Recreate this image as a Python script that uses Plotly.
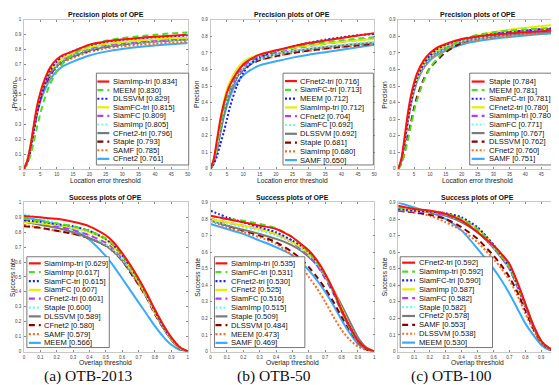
import plotly.graph_objects as go

W, H = 559, 385

# ---------------- data ----------------
prec_x = [0, 1, 2, 3, 4, 5, 6, 8, 10, 12, 15, 20, 25, 30, 35, 40, 45, 50]
succ_x = [0, 0.05, 0.1, 0.2, 0.3, 0.4, 0.5, 0.55, 0.6, 0.65, 0.7, 0.75, 0.8, 0.85, 0.9, 0.95, 1.0]

# (a) OTB-2013 precision
a_prec_names = ["SiamImp-tri", "MEEM", "DLSSVM", "SiamFC-tri", "SiamFC", "SiamImp",
                "CFnet2-tri", "Staple", "SAMF", "CFnet2"]
a_prec_scores = [0.834, 0.830, 0.829, 0.815, 0.809, 0.805, 0.796, 0.793, 0.785, 0.761]
a_prec_values = [
    [0, 0.05, 0.15, 0.29, 0.42, 0.51, 0.58, 0.68, 0.735, 0.765, 0.79, 0.834, 0.855, 0.868, 0.878, 0.887, 0.894, 0.90],
    [0, 0.03, 0.09, 0.18, 0.28, 0.37, 0.45, 0.57, 0.65, 0.71, 0.77, 0.830, 0.86, 0.878, 0.89, 0.90, 0.91, 0.915],
    [0, 0.04, 0.12, 0.25, 0.37, 0.47, 0.55, 0.66, 0.72, 0.76, 0.79, 0.829, 0.852, 0.866, 0.876, 0.884, 0.89, 0.895],
    [0, 0.05, 0.15, 0.28, 0.41, 0.50, 0.57, 0.66, 0.71, 0.745, 0.775, 0.815, 0.838, 0.852, 0.862, 0.87, 0.876, 0.88],
    [0, 0.05, 0.14, 0.27, 0.40, 0.49, 0.56, 0.65, 0.705, 0.74, 0.77, 0.809, 0.832, 0.846, 0.856, 0.864, 0.87, 0.875],
    [0, 0.05, 0.15, 0.28, 0.40, 0.49, 0.56, 0.65, 0.70, 0.735, 0.765, 0.805, 0.828, 0.842, 0.852, 0.86, 0.866, 0.87],
    [0, 0.05, 0.15, 0.28, 0.40, 0.49, 0.55, 0.64, 0.69, 0.725, 0.755, 0.796, 0.82, 0.835, 0.846, 0.855, 0.862, 0.868],
    [0, 0.04, 0.13, 0.26, 0.38, 0.47, 0.54, 0.63, 0.69, 0.725, 0.755, 0.793, 0.818, 0.834, 0.846, 0.856, 0.864, 0.87],
    [0, 0.04, 0.13, 0.26, 0.37, 0.46, 0.53, 0.62, 0.68, 0.715, 0.745, 0.785, 0.808, 0.822, 0.832, 0.84, 0.847, 0.852],
    [0, 0.05, 0.14, 0.26, 0.37, 0.45, 0.51, 0.60, 0.655, 0.69, 0.72, 0.761, 0.787, 0.805, 0.818, 0.828, 0.837, 0.845],
]

# (b) OTB-50 precision
b_prec_names = ["CFnet2-tri", "SiamFC-tri", "MEEM", "SiamImp-tri", "CFnet2", "SiamFC",
                "DLSSVM", "Staple", "SiamImp", "SAMF"]
b_prec_scores = [0.716, 0.713, 0.712, 0.712, 0.704, 0.692, 0.692, 0.681, 0.680, 0.650]
b_prec_values = [
    [0, 0.06, 0.18, 0.30, 0.39, 0.46, 0.51, 0.58, 0.63, 0.66, 0.69, 0.716, 0.74, 0.76, 0.775, 0.79, 0.805, 0.82],
    [0, 0.05, 0.15, 0.27, 0.37, 0.44, 0.50, 0.58, 0.63, 0.66, 0.688, 0.713, 0.735, 0.752, 0.765, 0.777, 0.787, 0.795],
    [0, 0.03, 0.08, 0.15, 0.22, 0.30, 0.38, 0.50, 0.58, 0.63, 0.675, 0.712, 0.74, 0.762, 0.78, 0.795, 0.807, 0.815],
    [0, 0.05, 0.16, 0.29, 0.40, 0.48, 0.53, 0.60, 0.645, 0.67, 0.69, 0.712, 0.73, 0.745, 0.757, 0.768, 0.777, 0.785],
    [0, 0.05, 0.15, 0.27, 0.37, 0.44, 0.49, 0.57, 0.62, 0.65, 0.678, 0.704, 0.725, 0.742, 0.756, 0.768, 0.778, 0.787],
    [0, 0.05, 0.14, 0.25, 0.35, 0.42, 0.48, 0.56, 0.61, 0.64, 0.667, 0.692, 0.712, 0.727, 0.74, 0.75, 0.76, 0.768],
    [0, 0.04, 0.12, 0.22, 0.32, 0.40, 0.46, 0.55, 0.60, 0.635, 0.665, 0.692, 0.71, 0.724, 0.736, 0.746, 0.755, 0.763],
    [0, 0.05, 0.14, 0.25, 0.34, 0.41, 0.47, 0.55, 0.60, 0.63, 0.658, 0.681, 0.70, 0.715, 0.727, 0.737, 0.746, 0.755],
    [0, 0.05, 0.14, 0.25, 0.35, 0.42, 0.47, 0.55, 0.60, 0.63, 0.657, 0.680, 0.70, 0.713, 0.725, 0.735, 0.744, 0.752],
    [0, 0.04, 0.12, 0.22, 0.31, 0.38, 0.44, 0.52, 0.565, 0.595, 0.625, 0.650, 0.672, 0.69, 0.705, 0.72, 0.735, 0.75],
]

# (c) OTB-100 precision
c_prec_names = ["Staple", "MEEM", "SiamFC-tri", "CFnet2-tri", "SiamImp-tri", "SiamFC",
                "SiamImp", "DLSSVM", "CFnet2", "SAMF"]
c_prec_scores = [0.784, 0.781, 0.781, 0.780, 0.780, 0.771, 0.767, 0.762, 0.760, 0.751]
c_prec_values = [
    [0, 0.06, 0.19, 0.33, 0.44, 0.52, 0.58, 0.655, 0.70, 0.73, 0.755, 0.784, 0.80, 0.81, 0.818, 0.825, 0.832, 0.838],
    [0, 0.03, 0.09, 0.17, 0.26, 0.35, 0.42, 0.53, 0.61, 0.66, 0.72, 0.781, 0.81, 0.825, 0.835, 0.842, 0.848, 0.852],
    [0, 0.05, 0.16, 0.29, 0.40, 0.49, 0.55, 0.635, 0.685, 0.72, 0.75, 0.781, 0.80, 0.815, 0.827, 0.836, 0.844, 0.85],
    [0, 0.05, 0.17, 0.30, 0.41, 0.49, 0.55, 0.635, 0.685, 0.715, 0.745, 0.780, 0.805, 0.825, 0.84, 0.852, 0.862, 0.87],
    [0, 0.05, 0.16, 0.29, 0.40, 0.49, 0.55, 0.63, 0.68, 0.715, 0.746, 0.780, 0.80, 0.815, 0.827, 0.836, 0.843, 0.848],
    [0, 0.05, 0.16, 0.28, 0.39, 0.48, 0.54, 0.62, 0.67, 0.705, 0.737, 0.771, 0.79, 0.805, 0.816, 0.825, 0.832, 0.838],
    [0, 0.05, 0.16, 0.29, 0.40, 0.48, 0.54, 0.62, 0.67, 0.70, 0.733, 0.767, 0.787, 0.80, 0.81, 0.818, 0.825, 0.83],
    [0, 0.03, 0.10, 0.19, 0.28, 0.37, 0.44, 0.54, 0.61, 0.65, 0.705, 0.762, 0.79, 0.805, 0.815, 0.822, 0.828, 0.833],
    [0, 0.05, 0.16, 0.28, 0.39, 0.47, 0.53, 0.61, 0.66, 0.69, 0.725, 0.760, 0.78, 0.793, 0.803, 0.811, 0.818, 0.824],
    [0, 0.05, 0.16, 0.28, 0.39, 0.47, 0.53, 0.61, 0.655, 0.685, 0.715, 0.751, 0.772, 0.786, 0.797, 0.806, 0.814, 0.82],
]

# (a) OTB-2013 success
a_succ_names = ["SiamImp-tri", "SiamImp", "SiamFC-tri", "SiamFC", "CFnet2-tri", "Staple",
                "DLSSVM", "CFnet2", "SAMF", "MEEM"]
a_succ_scores = [0.629, 0.617, 0.615, 0.607, 0.601, 0.600, 0.589, 0.580, 0.579, 0.566]
a_succ_values = [
    [0.91, 0.905, 0.90, 0.89, 0.87, 0.84, 0.78, 0.73, 0.66, 0.58, 0.49, 0.39, 0.28, 0.18, 0.095, 0.03, 0],
    [0.89, 0.885, 0.875, 0.86, 0.84, 0.81, 0.76, 0.71, 0.65, 0.57, 0.48, 0.38, 0.28, 0.18, 0.09, 0.03, 0],
    [0.88, 0.875, 0.87, 0.855, 0.84, 0.81, 0.755, 0.71, 0.645, 0.57, 0.48, 0.38, 0.27, 0.17, 0.09, 0.03, 0],
    [0.87, 0.865, 0.86, 0.85, 0.83, 0.80, 0.75, 0.70, 0.64, 0.56, 0.47, 0.37, 0.26, 0.17, 0.085, 0.025, 0],
    [0.88, 0.87, 0.86, 0.84, 0.815, 0.78, 0.73, 0.69, 0.63, 0.56, 0.47, 0.37, 0.27, 0.17, 0.085, 0.025, 0],
    [0.92, 0.91, 0.895, 0.86, 0.82, 0.78, 0.72, 0.68, 0.62, 0.55, 0.47, 0.37, 0.27, 0.17, 0.085, 0.025, 0],
    [0.87, 0.86, 0.85, 0.83, 0.80, 0.76, 0.71, 0.67, 0.61, 0.54, 0.46, 0.37, 0.26, 0.16, 0.08, 0.02, 0],
    [0.84, 0.835, 0.83, 0.81, 0.79, 0.76, 0.71, 0.67, 0.61, 0.53, 0.45, 0.36, 0.25, 0.16, 0.08, 0.02, 0],
    [0.85, 0.84, 0.83, 0.81, 0.79, 0.76, 0.71, 0.665, 0.61, 0.53, 0.45, 0.36, 0.26, 0.16, 0.08, 0.02, 0],
    [0.90, 0.89, 0.88, 0.85, 0.82, 0.75, 0.64, 0.57, 0.49, 0.41, 0.33, 0.25, 0.17, 0.10, 0.045, 0.012, 0],
]

# (b) OTB-50 success
b_succ_names = ["SiamImp-tri", "SiamFC-tri", "CFnet2-tri", "CFnet2", "SiamFC", "SiamImp",
                "Staple", "DLSSVM", "MEEM", "SAMF"]
b_succ_scores = [0.535, 0.531, 0.530, 0.525, 0.516, 0.515, 0.509, 0.484, 0.473, 0.469]
b_succ_values = [
    [0.82, 0.81, 0.80, 0.78, 0.76, 0.74, 0.69, 0.65, 0.61, 0.55, 0.47, 0.37, 0.25, 0.15, 0.065, 0.02, 0],
    [0.82, 0.81, 0.80, 0.79, 0.77, 0.745, 0.69, 0.65, 0.60, 0.54, 0.46, 0.36, 0.24, 0.14, 0.06, 0.02, 0],
    [0.85, 0.83, 0.81, 0.78, 0.75, 0.72, 0.67, 0.64, 0.60, 0.54, 0.46, 0.36, 0.25, 0.15, 0.065, 0.02, 0],
    [0.80, 0.79, 0.78, 0.76, 0.74, 0.71, 0.66, 0.63, 0.59, 0.54, 0.46, 0.37, 0.26, 0.155, 0.065, 0.02, 0],
    [0.80, 0.79, 0.78, 0.76, 0.74, 0.71, 0.66, 0.62, 0.58, 0.52, 0.44, 0.35, 0.24, 0.14, 0.06, 0.02, 0],
    [0.79, 0.78, 0.77, 0.75, 0.73, 0.70, 0.655, 0.62, 0.58, 0.52, 0.45, 0.35, 0.245, 0.145, 0.06, 0.02, 0],
    [0.79, 0.775, 0.76, 0.735, 0.71, 0.68, 0.64, 0.61, 0.57, 0.52, 0.45, 0.37, 0.28, 0.18, 0.085, 0.025, 0],
    [0.80, 0.78, 0.76, 0.73, 0.70, 0.66, 0.60, 0.56, 0.51, 0.45, 0.38, 0.30, 0.21, 0.13, 0.055, 0.015, 0],
    [0.79, 0.77, 0.75, 0.72, 0.69, 0.65, 0.58, 0.52, 0.45, 0.38, 0.30, 0.21, 0.13, 0.07, 0.03, 0.01, 0],
    [0.77, 0.755, 0.74, 0.71, 0.67, 0.63, 0.58, 0.54, 0.49, 0.43, 0.36, 0.28, 0.19, 0.11, 0.045, 0.012, 0],
]

# (c) OTB-100 success
c_succ_names = ["CFnet2-tri", "SiamImp-tri", "SiamFC-tri", "SiamImp", "SiamFC", "Staple",
                "CFnet2", "SAMF", "DLSSVM", "MEEM"]
c_succ_scores = [0.592, 0.592, 0.590, 0.587, 0.582, 0.582, 0.578, 0.553, 0.538, 0.530]
c_succ_values = [
    [0.88, 0.87, 0.86, 0.85, 0.83, 0.79, 0.72, 0.68, 0.64, 0.59, 0.53, 0.42, 0.29, 0.16, 0.065, 0.02, 0],
    [0.87, 0.865, 0.86, 0.85, 0.835, 0.80, 0.74, 0.69, 0.64, 0.58, 0.51, 0.41, 0.29, 0.16, 0.065, 0.02, 0],
    [0.86, 0.855, 0.85, 0.845, 0.835, 0.81, 0.75, 0.70, 0.645, 0.58, 0.51, 0.40, 0.28, 0.155, 0.06, 0.02, 0],
    [0.86, 0.855, 0.85, 0.845, 0.83, 0.80, 0.74, 0.70, 0.64, 0.58, 0.51, 0.40, 0.28, 0.155, 0.06, 0.02, 0],
    [0.85, 0.85, 0.845, 0.84, 0.825, 0.795, 0.735, 0.69, 0.635, 0.57, 0.50, 0.39, 0.27, 0.15, 0.06, 0.02, 0],
    [0.87, 0.865, 0.86, 0.845, 0.825, 0.79, 0.73, 0.68, 0.63, 0.57, 0.50, 0.40, 0.28, 0.16, 0.065, 0.02, 0],
    [0.86, 0.855, 0.85, 0.84, 0.82, 0.78, 0.72, 0.675, 0.625, 0.565, 0.50, 0.40, 0.28, 0.155, 0.06, 0.02, 0],
    [0.85, 0.845, 0.84, 0.825, 0.80, 0.75, 0.68, 0.63, 0.58, 0.52, 0.45, 0.36, 0.25, 0.14, 0.055, 0.015, 0],
    [0.86, 0.85, 0.84, 0.82, 0.78, 0.73, 0.66, 0.61, 0.56, 0.50, 0.43, 0.34, 0.23, 0.13, 0.05, 0.015, 0],
    [0.90, 0.885, 0.87, 0.84, 0.80, 0.73, 0.62, 0.56, 0.50, 0.43, 0.35, 0.26, 0.17, 0.10, 0.04, 0.01, 0],
]

captions = ["(a) OTB-2013", "(b) OTB-50", "(c) OTB-100"]

# ---------------- styles ----------------
COLORS = ["#ff1010", "#4ddc28", "#1c1cff", "#e4ee00", "#b03cff",
          "#66ffee", "#7a7a7a", "#880000", "#ff6a22", "#38aaff"]
DASHES = ["solid", "6px,4px", "2px,2px", "solid", "6px,4px",
          "2px,2px", "solid", "6px,4px", "2px,2px", "solid"]
FONT = "Arial"

# panel geometry in pixels: (left, right, top, bottom)
panels = [
    dict(kind="prec", names=a_prec_names, scores=a_prec_scores, vals=a_prec_values,
         box=(15, 180, 10, 161), yr=[0, 1], leg=(88, 181, 64, 157), leg_line=(89, 101), leg_text=103, leg_y0=72.5, dy=8.7, ytitle_x=5),
    dict(kind="prec", names=b_prec_names, scores=b_prec_scores, vals=b_prec_values,
         box=(203, 368, 10, 161), yr=[0, 0.9], leg=(276, 367, 64, 157), leg_line=(278, 290), leg_text=291.5, leg_y0=72.0, dy=8.9, ytitle_x=189),
    dict(kind="prec", names=c_prec_names, scores=c_prec_scores, vals=c_prec_values,
         box=(392, 552, 10, 161), yr=[0, 0.9], leg=(464, 555, 64, 157), leg_line=(466, 479), leg_text=481.5, leg_y0=72.5, dy=8.7, ytitle_x=378),
    dict(kind="succ", names=a_succ_names, scores=a_succ_scores, vals=a_succ_values,
         box=(15, 180, 195, 346), yr=[0, 1], leg=(18, 101, 250, 342), leg_line=(20, 32), leg_text=33, leg_y0=256.7, dy=8.95, ytitle_x=4),
    dict(kind="succ", names=b_succ_names, scores=b_succ_scores, vals=b_succ_values,
         box=(203, 368, 195, 346), yr=[0, 0.9], leg=(207, 298, 250, 342), leg_line=(208, 220), leg_text=221.5, leg_y0=256.7, dy=8.95, ytitle_x=190),
    dict(kind="succ", names=c_succ_names, scores=c_succ_scores, vals=c_succ_values,
         box=(392, 552, 195, 346), yr=[0, 0.9], leg=(394, 487, 250, 342), leg_line=(396, 409), leg_text=410.5, leg_y0=256.0, dy=9.0, ytitle_x=379),
]

def px_x(p):
    return p / W

def px_y(p):
    return 1 - p / H

fig = go.Figure()
layout = dict(
    width=W, height=H, margin=dict(l=0, r=0, t=0, b=0),
    paper_bgcolor="white", plot_bgcolor="white", showlegend=False,
    font=dict(family=FONT, color="#222"),
)
shapes = []
annotations = []

for i, p in enumerate(panels):
    k = "" if i == 0 else str(i + 1)
    xname, yname = "x" + k, "y" + k
    l, r, t, b = p["box"]
    xs = prec_x if p["kind"] == "prec" else succ_x
    n = len(p["names"])
    for j in reversed(range(n)):
        fig.add_trace(go.Scatter(
            x=xs, y=p["vals"][j], mode="lines", xaxis=xname, yaxis=yname,
            line=dict(color=COLORS[j], width=2, dash=DASHES[j], shape="spline", smoothing=0.6),
            name=p["names"][j], hoverinfo="skip"))
    common = dict(showgrid=False, zeroline=False, showline=True, linecolor="#c8c8c8", linewidth=0.6,
                  mirror="ticks", ticks="inside", ticklen=2, tickcolor="#888", tickwidth=0.6,
                  tickfont=dict(size=4.5, color="#444", family=FONT))
    if p["kind"] == "prec":
        xax = dict(range=[0, 50], tick0=0, dtick=5, **common)
    else:
        xax = dict(range=[0, 1], tick0=0, dtick=0.1, **common)
    yax = dict(range=p["yr"], tick0=0, dtick=0.1, **common)
    xax.update(domain=[px_x(l), px_x(r)], anchor=yname, ticklabelstandoff=1)
    yax.update(domain=[px_y(b), px_y(t)], anchor=xname, ticklabelstandoff=1)
    layout["xaxis" + k] = xax
    layout["yaxis" + k] = yax

    # titles
    title = "Precision plots of OPE" if p["kind"] == "prec" else "Success plots of OPE"
    xtitle = "Location error threshold" if p["kind"] == "prec" else "Overlap threshold"
    ytitle = "Precision" if p["kind"] == "prec" else "Success rate"
    annotations.append(dict(text="<b>" + title + "</b>", x=px_x((l + r) / 2), y=px_y(t - 5),
                            xref="paper", yref="paper", showarrow=False,
                            font=dict(size=7, color="#111", family=FONT), xanchor="center", yanchor="middle"))
    annotations.append(dict(text=xtitle, x=px_x((l + r) / 2), y=px_y(b + 11.5),
                            xref="paper", yref="paper", showarrow=False,
                            font=dict(size=6.7, color="#222", family=FONT), xanchor="center", yanchor="middle"))
    annotations.append(dict(text=ytitle, x=px_x(p["ytitle_x"]), y=px_y((t + b) / 2), textangle=-90,
                            xref="paper", yref="paper", showarrow=False,
                            font=dict(size=6.7, color="#222", family=FONT), xanchor="center", yanchor="middle"))

    # legend box
    lx0, lx1, ly0, ly1 = p["leg"]
    shapes.append(dict(type="rect", xref="paper", yref="paper", x0=px_x(lx0), x1=px_x(lx1),
                       y0=px_y(ly1), y1=px_y(ly0), fillcolor="white",
                       line=dict(color="#555", width=0.8), layer="above"))
    for j in range(n):
        yy = p["leg_y0"] + j * p["dy"]
        shapes.append(dict(type="line", xref="paper", yref="paper",
                           x0=px_x(p["leg_line"][0]), x1=px_x(p["leg_line"][1]),
                           y0=px_y(yy), y1=px_y(yy), layer="above",
                           line=dict(color=COLORS[j], width=2.2, dash=DASHES[j])))
        annotations.append(dict(text=f"{p['names'][j]} [{p['scores'][j]:.3f}]",
                                x=px_x(p["leg_text"]), y=px_y(yy), xref="paper", yref="paper",
                                showarrow=False, xanchor="left", yanchor="middle",
                                font=dict(size=7.6, color="#111", family=FONT)))

# captions
for cx, cap in zip([80, 267, 446], captions):
    annotations.append(dict(text=cap, x=px_x(cx), y=px_y(371), xref="paper", yref="paper",
                            showarrow=False, xanchor="center", yanchor="middle",
                            font=dict(size=15.5, color="#111", family="Liberation Serif, DejaVu Serif, serif")))

layout["shapes"] = shapes
layout["annotations"] = annotations
fig.update_layout(**layout)
fig.write_html("out.html")
